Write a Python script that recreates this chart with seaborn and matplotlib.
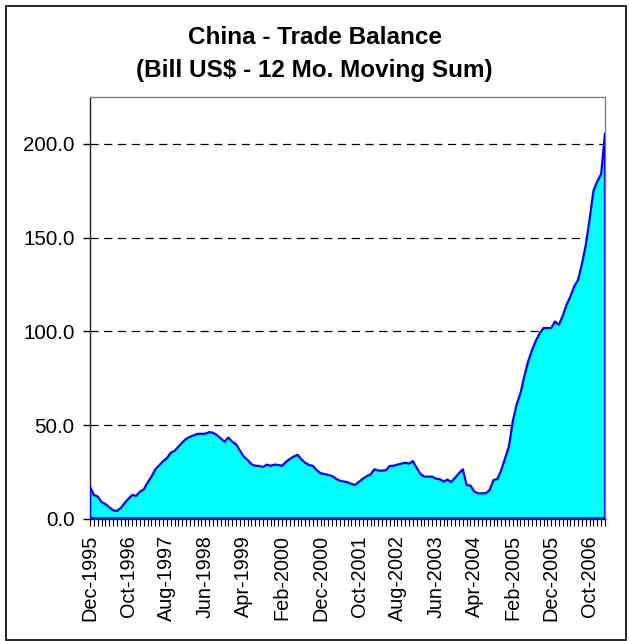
import matplotlib
matplotlib.use("Agg")
import matplotlib.pyplot as plt
from matplotlib.patches import Rectangle
from matplotlib.ticker import MultipleLocator, FixedLocator, FuncFormatter
import numpy as np
import pandas as pd
import seaborn as sns

# 12-month moving sum of China's trade balance, billions of US$, Dec-1995 .. Feb-2007
start_month = "1995-12"
balance = [
    17.2, 12.8, 12.0, 9.0, 8.0, 6.3, 4.6, 4.3, 5.8, 8.5,
    10.8, 12.8, 12.3, 14.6, 15.8, 19.5, 22.6, 26.5, 28.6, 30.8,
    32.4, 35.4, 36.3, 38.5, 40.8, 42.7, 43.8, 44.6, 45.4, 45.4,
    45.5, 46.3, 46.0, 44.8, 43.0, 41.2, 43.4, 41.2, 39.9, 36.5,
    33.3, 31.5, 29.2, 28.4, 28.3, 27.7, 29.0, 28.4, 29.0, 28.8,
    28.4, 30.5, 32.0, 33.3, 34.2, 31.9, 29.9, 28.8, 28.3, 26.0,
    24.4, 24.0, 23.5, 22.9, 21.5, 20.4, 20.0, 19.6, 18.7, 18.2,
    19.8, 21.5, 22.8, 23.8, 26.5, 25.8, 25.8, 26.0, 28.3, 28.4,
    29.0, 29.5, 30.0, 29.5, 30.9, 27.3, 24.0, 22.6, 22.6, 22.6,
    21.5, 21.2, 20.0, 21.0, 19.7, 22.0, 24.4, 26.5, 18.1, 17.8,
    14.6, 13.7, 13.7, 13.7, 15.5, 20.8, 21.3, 26.1, 32.4, 38.6,
    52.0, 61.0, 67.0, 76.0, 84.0, 90.0, 95.0, 99.0, 101.8, 101.8,
    101.8, 105.3, 103.5, 108.3, 114.2, 118.6, 124.0, 127.5, 136.0, 146.0,
    160.0, 175.0, 180.0, 184.0, 205.5,
]
y_ticks = [0, 50, 100, 150, 200]
label_every = 10

months = pd.period_range(start=start_month, periods=len(balance), freq="M")
df = pd.DataFrame({"pos": np.arange(len(balance)), "balance": balance})
tick_labels = [m.strftime("%b-%Y") for m in months]

sns.set_style("white")
plt.rcParams["font.family"] = ["Liberation Sans", "DejaVu Sans"]
plt.rcParams.update({"text.color": "black", "xtick.color": "black",
                     "ytick.color": "black", "axes.labelcolor": "black"})

W, H = 629, 641
fig = plt.figure(figsize=(W / 100, H / 100), dpi=100)
ax = fig.add_axes([90 / W, 1 - 519 / H, 515 / W, 422 / H])

# filled area with a blue outline around the whole shape
ax.fill_between(df["pos"], 0, df["balance"], facecolor="#00FFFF",
                edgecolor="none", zorder=2)
sns.lineplot(data=df, x="pos", y="balance", ax=ax, color="#0000FF",
             linewidth=1.6, zorder=3)
last = df["pos"].iloc[-1]
ax.plot([last, last], [0, df["balance"].iloc[-1]], color="#0000FF",
        linewidth=1.6, zorder=3)
ax.plot([0, 0], [0, df["balance"].iloc[0]], color="#0000FF",
        linewidth=1.6, zorder=3)
ax.plot([0, last], [0.3, 0.3], color="#0000CC", linewidth=1.2, zorder=3)

ax.set_xlim(0, last)
ax.set_ylim(0, 225)

# dashed horizontal gridlines
for v in y_ticks[1:]:
    ax.axhline(v, color="black", linewidth=0.9, dashes=(6.5, 4.5), zorder=1)

ax.yaxis.set_major_locator(FixedLocator(y_ticks))
ax.yaxis.set_major_formatter(FuncFormatter(lambda v, p: f"{v:.1f}"))
major_pos = list(range(0, len(balance), label_every))
ax.xaxis.set_major_locator(FixedLocator(major_pos))
ax.set_xticklabels([tick_labels[i] for i in major_pos], rotation=90)
ax.xaxis.set_minor_locator(MultipleLocator(1))

ax.tick_params(axis="y", which="major", direction="out", length=5, width=1,
               color="black", labelcolor="black", labelsize=14.8, pad=6,
               left=True)
ax.tick_params(axis="x", which="both", direction="out", length=5, width=0.8,
               color="black", labelcolor="black", labelsize=14.3, pad=6.5,
               bottom=True)

ax.set_xlabel("")
ax.set_ylabel("")

for side in ("top", "right"):
    ax.spines[side].set_color("#808080")
    ax.spines[side].set_linewidth(1.0)
for side in ("left", "bottom"):
    ax.spines[side].set_color("#222222")
    ax.spines[side].set_linewidth(1.0)

fig.text(0.5, 1 - 38 / H, "China - Trade Balance", ha="center", va="center",
         fontsize=17.5, fontweight="bold", color="black")
fig.text(0.5, 1 - 70 / H, r"(Bill US\$ - 12 Mo. Moving Sum)", ha="center",
         va="center", fontsize=17.5, fontweight="bold", color="black")

# outer chart frame
fig.patches.append(Rectangle((5.5 / W, 1 - 639.5 / H), 620 / W, 634 / H,
                             transform=fig.transFigure, fill=False,
                             edgecolor="black", linewidth=1.2))

fig.savefig("out.png", dpi=100)
